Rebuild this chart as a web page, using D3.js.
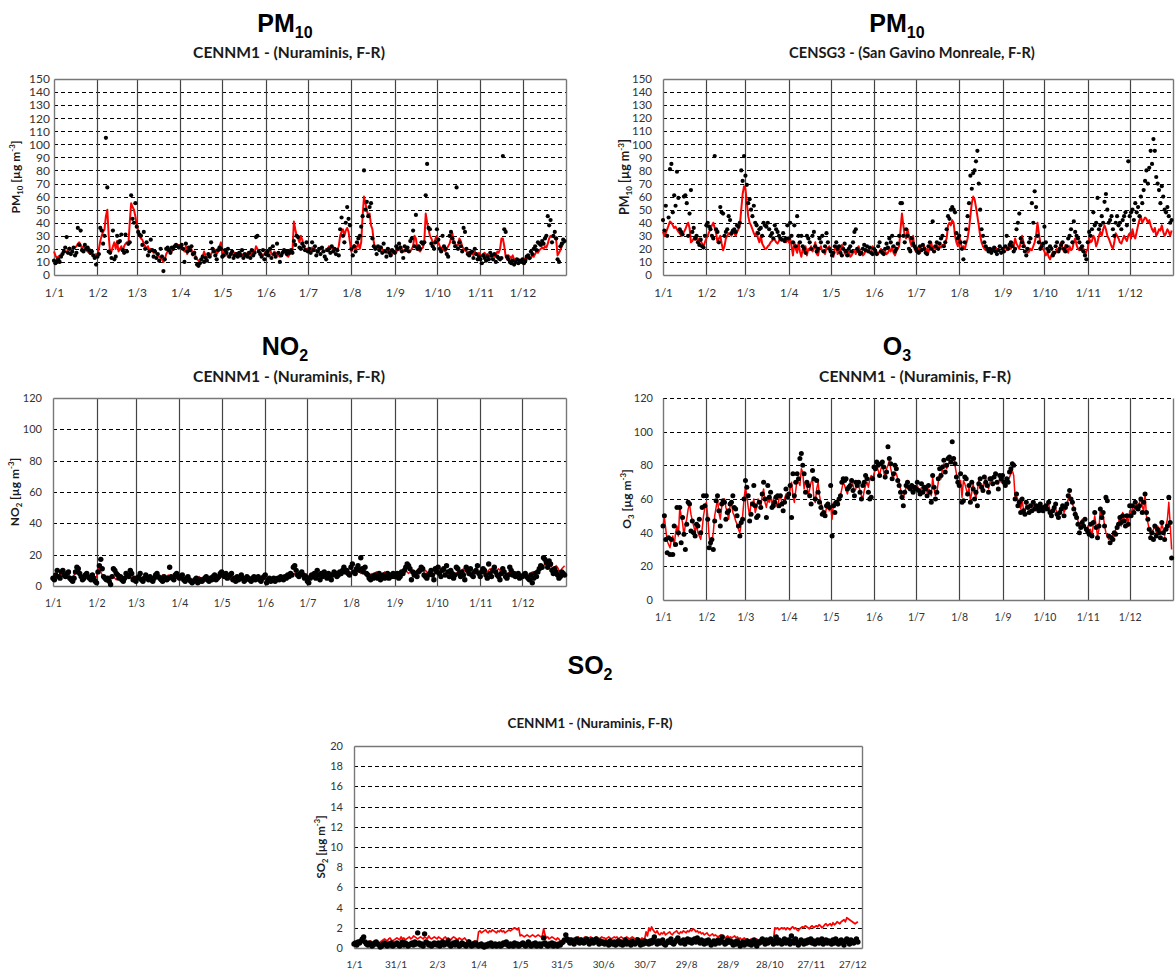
<!DOCTYPE html>
<html>
<head>
<meta charset="utf-8">
<script src="https://cdn.jsdelivr.net/npm/d3@7/dist/d3.min.js"></script>
<style>
  body { margin: 0; background: #fff; }
  svg { display: block; }
</style>
</head>
<body>
<svg id="chart" width="1176" height="972"></svg>
<script>
// ---- Axis categories and tick labels ----
const monthStarts = [0, 31, 59, 90, 120, 151, 181, 212, 243, 273, 304, 334];
const monthLabels = ["1/1", "1/2", "1/3", "1/4", "1/5", "1/6", "1/7", "1/8", "1/9", "1/10", "1/11", "1/12"];
const so2TickDays = [0, 30, 60, 90, 120, 150, 180, 210, 240, 270, 300, 330, 360];
const so2TickLabels = ["1/1", "31/1", "2/3", "1/4", "1/5", "31/5", "30/6", "30/7", "29/8", "28/9", "28/10", "27/11", "27/12"];
const pm10YTicks = [0, 10, 20, 30, 40, 50, 60, 70, 80, 90, 100, 110, 120, 130, 140, 150];
const no2YTicks = [0, 20, 40, 60, 80, 100, 120];
const o3YTicks = [0, 20, 40, 60, 80, 100, 120];
const so2YTicks = [0, 2, 4, 6, 8, 10, 12, 14, 16, 18, 20];

// ---- Daily series (one value per day, Jan..Dec, one month per line) ----
// PM10, CENNM1 Nuraminis: red line
const pm10NurLine = [
  18,15,13,14,15,15,16,17,18,17,20,21,20,19,20,21,22,24,25,23,20,22,21,19,18,17,16,17,15,14,16,
  15,20,26,30,33,35,45,50,30,17,18,22,25,20,26,18,20,22,18,22,24,25,23,40,55,52,50,45,
  38,34,30,28,27,24,22,20,22,19,20,19,17,18,16,15,14,13,12,10,12,16,18,20,19,18,20,21,22,22,23,
  21,22,20,18,22,16,20,18,20,15,18,14,12,11,10,12,14,18,15,13,15,14,16,18,20,19,16,18,22,25,
  15,17,18,16,14,15,17,16,15,17,16,14,16,17,15,16,14,15,17,16,15,18,16,17,22,20,18,17,16,15,16,
  18,15,17,20,16,15,18,17,16,15,14,16,18,19,17,15,14,16,17,18,41,35,30,28,25,30,27,22,20,20,
  19,20,18,21,19,20,18,17,19,20,21,19,18,20,19,22,20,21,19,18,20,19,22,30,33,35,30,34,36,33,25,
  18,20,23,18,22,24,20,25,45,60,55,50,45,47,38,35,25,20,21,20,19,22,20,18,19,17,18,20,18,16,17,
  18,17,20,19,22,20,19,18,21,20,19,18,20,22,30,28,20,19,18,20,21,26,47,40,35,30,28,25,24,28,
  30,25,22,20,21,19,18,20,22,24,28,32,25,24,22,23,28,26,22,20,19,18,17,18,16,17,15,18,16,15,17,
  15,14,16,17,15,16,14,15,13,16,14,15,18,17,20,28,28,22,14,12,15,14,13,15,12,10,11,12,10,11,
  12,11,13,12,14,12,13,15,14,16,18,17,19,20,21,20,22,21,24,28,30,29,30,28,27,15,17,19,22,24,25
];
// PM10, CENNM1 Nuraminis: black points
const pm10NurPoints = [
  11,9,10,12,10,14,16,18,21,29,17,20,16,18,21,15,17,36,23,34,19,18,23,20,21,19,17,18,15,13,8,
  14,16,36,34,24,30,105,67,18,17,13,34,12,14,30,25,26,31,19,17,31,18,24,25,61,43,40,55,
  37,33,31,30,23,33,20,25,15,18,27,19,14,18,13,16,11,20,14,3,12,20,21,19,17,21,20,22,23,22,21,
  22,23,20,10,24,18,21,19,22,16,17,13,8,7,9,12,14,10,13,11,16,14,25,20,18,15,12,19,21,20,
  14,15,19,17,20,14,16,18,13,15,16,14,17,15,19,13,16,15,14,17,13,19,15,17,29,30,18,16,14,19,12,
  16,18,15,20,13,22,16,14,24,17,10,15,17,19,18,16,18,17,19,17,26,23,30,29,21,20,24,22,19,25,
  18,20,17,25,19,22,15,18,20,16,21,18,14,12,19,20,17,22,18,20,16,19,15,35,44,30,25,40,52,43,38,
  20,15,22,18,25,28,30,37,45,80,50,56,45,52,55,28,22,20,16,22,19,21,17,24,18,14,20,17,15,19,18,
  17,22,20,24,21,18,13,22,19,21,18,26,28,34,22,46,20,22,20,25,24,25,61,85,36,35,24,22,20,25,
  35,27,20,18,30,22,20,16,14,30,33,28,25,22,67,20,25,22,18,36,33,20,16,15,17,18,13,20,16,12,14,
  12,9,15,13,11,14,12,17,15,12,16,10,14,13,12,13,91,35,33,14,12,10,9,11,8,10,12,9,11,10,
  12,9,11,14,15,13,18,16,20,22,19,25,24,23,26,24,28,30,45,38,42,25,30,33,28,12,10,22,24,27,26
];
// PM10, CENSG3 San Gavino Monreale: red line
const pm10SgLine = [
  33,30,32,35,38,41,40,38,36,37,35,33,32,30,31,33,35,38,40,36,25,26,28,27,30,25,28,26,24,22,25,
  28,30,33,35,38,40,36,32,25,28,30,24,19,22,28,30,32,31,30,33,32,30,33,35,38,50,62,68,
  66,55,45,40,38,35,32,30,33,28,25,30,24,22,20,20,22,23,25,26,28,27,25,24,26,28,27,28,26,25,27,
  25,28,22,15,25,20,17,25,18,14,20,18,22,15,20,19,22,18,20,25,16,15,20,22,18,19,16,21,20,22,
  18,15,14,20,22,16,20,18,23,21,17,15,16,18,14,15,17,19,16,20,22,18,17,15,16,19,18,20,17,18,22,
  20,18,17,16,18,20,17,19,18,16,17,20,18,22,17,15,18,20,22,35,47,38,30,28,35,30,25,22,30,20,
  18,20,22,17,20,19,22,18,20,17,22,25,19,22,20,23,20,22,21,23,22,25,28,38,40,38,42,40,30,25,22,
  30,25,20,22,20,24,28,35,45,55,60,58,52,45,38,30,25,22,20,19,21,20,18,20,19,18,21,20,19,18,17,
  18,20,22,19,21,23,20,25,22,28,24,22,20,25,30,25,22,20,17,18,20,19,22,25,30,40,32,25,22,20,
  18,15,17,14,12,15,18,16,17,20,18,22,25,20,18,23,20,17,22,19,20,25,28,23,20,19,22,18,20,15,18,
  20,28,25,26,30,28,22,25,30,33,30,35,38,35,30,28,25,22,20,25,32,30,28,25,24,27,30,28,26,30,
  32,28,35,30,28,33,38,42,45,40,42,44,43,40,42,38,35,33,36,30,32,35,34,38,33,30,32,35,33,30,34
];
// PM10, CENSG3 San Gavino Monreale: black points
const pm10SgPoints = [
  42,34,53,30,44,81,85,48,61,53,79,59,35,33,31,60,61,55,30,47,65,33,36,28,30,25,23,27,22,21,30,
  38,40,37,35,30,28,91,35,33,25,52,48,47,30,33,35,45,42,32,34,35,33,38,37,40,80,72,91,
  76,69,55,58,50,45,53,40,38,32,35,36,30,40,38,37,40,35,30,32,28,38,35,33,30,28,27,32,26,28,38,
  28,40,30,25,38,22,45,30,25,30,22,20,17,30,28,25,20,30,33,22,18,20,28,25,30,18,22,32,25,20,
  18,15,17,22,25,20,22,17,15,20,24,18,15,20,22,18,25,33,35,20,18,16,17,20,23,19,22,18,21,17,16,
  20,18,16,22,25,18,17,16,20,24,21,28,25,30,22,18,20,24,30,55,55,30,25,35,30,20,18,28,24,22,
  20,18,17,22,19,23,20,17,16,22,25,20,41,18,22,25,20,24,28,30,22,25,35,45,43,50,52,50,48,32,28,
  30,25,20,12,25,35,45,55,76,66,78,80,87,95,70,50,35,30,25,22,20,18,20,17,19,21,18,16,19,22,17,
  20,18,22,30,20,23,25,22,18,20,35,40,47,28,25,22,18,15,20,25,28,55,40,64,52,30,25,20,22,24,
  37,25,20,18,22,20,15,17,22,25,18,20,23,25,20,18,22,28,30,35,25,41,33,30,28,25,20,22,18,15,12,
  25,33,30,35,48,38,40,59,35,38,45,40,56,62,50,40,42,45,35,30,40,45,38,40,35,42,45,48,38,87,
  45,48,50,42,55,48,52,45,60,55,65,72,80,70,82,95,85,104,95,75,70,65,55,68,60,50,48,52,45,40,42
];
// NO2, CENNM1 Nuraminis: red line
const no2Line = [
  6,5,6,7,6,8,7,6,5,6,7,8,6,5,6,7,8,9,10,8,7,6,5,6,7,6,5,6,5,4,5,
  6,10,12,9,7,6,5,6,5,4,5,7,6,5,4,5,6,7,6,5,6,5,7,8,6,5,6,5,
  5,6,7,6,5,4,5,6,7,6,5,5,6,7,8,7,6,5,6,7,6,5,6,7,6,5,4,5,6,5,5,
  4,5,6,5,4,3,4,5,4,3,4,5,4,5,6,5,4,5,6,5,4,5,6,7,6,5,6,7,6,5,
  6,7,6,5,6,5,4,5,4,5,6,5,4,5,4,5,6,5,4,5,4,5,6,5,4,5,4,5,6,5,4,
  5,4,5,4,5,4,5,6,5,4,5,4,5,6,5,6,7,6,7,8,7,8,7,6,7,8,7,6,7,8,
  7,6,7,8,7,6,7,8,7,6,7,8,7,6,7,8,7,8,9,8,7,8,9,8,7,8,9,8,9,8,9,
  9,10,9,8,9,10,9,8,9,10,9,8,7,8,7,8,7,8,9,8,7,8,7,8,9,8,7,8,7,8,7,
  8,9,8,7,8,9,8,9,10,9,8,9,10,9,8,9,10,11,10,9,10,9,10,9,8,9,10,9,10,9,
  10,9,10,11,10,9,10,9,8,9,10,9,8,7,8,9,10,9,10,11,10,9,8,9,10,9,8,9,10,9,8,
  8,9,10,9,8,9,10,11,10,9,10,9,10,11,10,9,8,9,8,7,8,9,8,7,8,7,8,7,8,7,
  8,7,8,7,6,7,8,9,8,9,10,9,10,11,12,13,14,13,12,14,13,12,11,12,13,12,10,9,11,12,13
];
// NO2, CENNM1 Nuraminis: black points
const no2Points = [
  5,4,7,10,6,5,9,10,7,6,8,9,5,4,3,5,9,12,11,8,6,4,5,7,8,6,5,4,7,5,3,
  2,9,13,17,11,6,5,4,5,3,1,6,11,10,8,7,5,6,4,3,5,8,7,6,10,8,4,5,
  3,5,6,8,4,3,5,7,5,4,6,4,3,5,7,8,6,5,4,3,6,5,4,5,12,6,5,4,7,8,6,
  5,6,7,4,3,5,6,4,3,2,3,4,5,2,3,4,3,4,5,6,4,3,5,4,6,7,4,5,6,8,
  9,7,6,8,5,6,7,8,4,5,3,6,4,5,7,5,3,4,6,5,4,3,5,6,4,5,6,4,3,5,6,
  7,2,4,5,3,4,5,3,4,5,4,6,5,4,6,5,7,6,8,7,12,13,10,7,6,8,9,7,5,6,
  3,2,5,7,6,8,5,10,7,4,8,6,9,7,5,8,6,4,7,9,8,6,7,9,8,10,12,9,10,8,7,
  12,14,9,8,11,13,10,18,11,9,12,8,7,5,4,6,5,7,6,5,8,4,6,7,5,6,8,5,7,6,8,
  6,7,8,5,6,9,8,10,12,14,13,11,4,9,7,8,6,9,10,12,11,7,6,5,7,8,10,7,4,11,
  9,12,8,6,10,11,7,13,9,6,10,8,5,7,12,11,8,6,9,7,4,12,10,8,11,7,6,9,10,13,8,
  6,9,11,10,7,5,14,8,6,10,12,9,7,6,4,8,11,9,6,5,7,12,10,7,8,6,7,8,5,6,
  6,7,8,6,5,4,7,2,5,8,6,9,11,13,12,18,17,15,12,16,14,10,8,11,9,7,5,6,9,8,7
];
// O3, CENNM1 Nuraminis: red line
const o3Line = [
  44,49,42,35,33,31,36,38,32,40,44,38,55,50,46,38,45,48,54,57,51,47,44,40,45,40,38,36,42,50,55,
  58,50,38,31,35,40,50,55,60,52,48,55,58,60,55,52,48,56,58,52,50,47,45,42,40,45,50,60,
  67,62,55,50,58,56,60,52,55,60,58,55,62,66,58,55,60,58,62,56,60,62,58,55,60,62,58,56,60,63,62,
  60,66,70,62,58,65,72,70,68,78,76,66,70,68,62,66,70,72,60,58,66,70,62,58,55,52,50,55,58,53,
  56,48,58,55,58,56,60,62,66,70,68,65,63,67,70,72,68,65,66,70,68,65,62,60,65,68,70,67,72,74,72,
  75,78,80,77,74,78,80,76,72,78,80,83,78,74,73,76,75,72,70,66,62,60,64,67,68,66,65,67,66,65,
  65,68,66,64,67,65,66,68,64,66,65,62,73,66,62,64,70,75,72,78,81,80,78,80,82,83,84,85,80,75,70,
  67,71,61,71,69,66,62,67,59,64,69,63,61,65,71,68,69,66,70,72,69,66,70,72,68,69,70,71,69,72,70,
  72,69,70,72,70,73,75,77,74,61,62,58,60,54,59,54,53,57,55,54,56,55,57,54,56,55,54,57,54,56,
  54,55,56,57,53,51,52,55,54,52,50,51,53,55,52,54,56,60,63,58,57,55,53,51,47,44,46,48,45,42,40,
  44,40,42,38,45,50,44,38,42,55,48,51,44,40,38,36,38,37,40,38,42,44,46,50,44,52,48,46,50,44,
  53,51,55,53,55,57,55,58,60,56,52,63,50,46,42,38,40,42,44,40,44,42,40,46,42,38,44,48,58,45,30
];
// O3, CENNM1 Nuraminis: black points
const o3Points = [
  44,50,36,28,37,27,36,27,44,33,55,40,55,34,49,39,30,45,58,57,41,47,40,38,45,44,48,40,55,62,56,
  62,48,31,34,36,30,47,59,62,53,44,57,59,58,48,52,53,57,58,62,55,54,50,44,38,46,48,60,
  71,67,62,47,51,57,68,56,49,50,58,55,63,70,60,49,68,61,64,55,56,58,61,62,56,62,57,53,58,66,61,
  63,68,49,75,62,70,75,72,84,87,80,75,64,70,68,62,57,77,72,60,71,64,58,55,51,52,50,56,57,55,
  68,38,56,52,58,57,60,62,70,72,71,72,66,67,68,71,65,62,70,68,70,64,60,68,70,74,72,64,60,61,72,
  79,78,82,80,74,81,82,79,73,76,91,84,81,72,75,80,78,71,68,64,61,56,64,68,70,67,66,68,64,67,
  66,70,65,63,69,64,67,66,62,68,64,58,74,67,60,64,72,78,74,79,83,76,80,84,85,82,94,84,81,73,70,
  68,75,58,59,73,72,63,68,58,70,66,60,64,56,69,72,67,65,73,70,68,64,72,72,69,73,75,70,66,74,72,
  74,70,68,72,70,76,78,81,80,60,63,56,58,52,60,53,51,58,55,52,56,53,58,54,56,55,53,57,55,53,
  55,56,54,58,52,50,53,55,57,51,49,52,54,56,50,55,57,62,65,60,58,54,51,49,45,40,43,46,44,48,42,
  41,39,45,38,46,52,43,37,44,54,49,52,44,61,59,38,34,37,36,40,39,43,45,49,46,50,47,44,50,45,
  56,50,56,52,58,55,54,56,60,52,58,63,52,48,42,37,40,36,44,38,42,40,37,46,40,36,42,44,61,46,25
];
// SO2, CENNM1 Nuraminis: red line
const so2Line = [
  .6,.5,.6,.5,.7,.6,.8,.7,.6,.5,.6,.5,.7,.6,.5,.6,.7,.6,.5,.6,.7,.8,.9,.8,.7,.9,1.0,.8,.7,.8,.9,
  1.0,.9,.8,1.1,.9,1.0,.8,.9,1.0,1.1,.9,1.0,1.2,1.1,1.0,.9,1.0,1.1,1.0,.9,1.1,1.0,.9,1.2,1.0,.9,1.0,1.1,
  1.0,.9,1.1,1.0,.9,.8,1.0,1.1,.9,1.0,.9,.8,1.0,1.1,1.0,.9,.8,1.0,.9,.8,.9,1.0,.8,.7,.8,.6,.5,.6,.7,.6,.6,
  1.6,1.7,1.5,1.6,1.7,1.8,1.6,1.5,1.7,1.6,1.8,1.7,1.6,1.5,1.7,1.6,1.8,1.6,1.7,1.5,1.6,1.7,1.8,1.7,1.8,1.9,2.0,1.9,1.8,2.0,
  1.2,1.3,1.2,1.1,1.2,1.3,1.2,1.1,1.2,1.3,1.2,1.1,1.2,1.3,1.2,1.1,1.2,1.9,1.3,1.0,1.1,.9,1.0,1.1,1.0,.9,.8,1.0,.9,.7,.6,
  .7,.8,.9,.8,.9,1.0,.9,.8,1.0,.9,1.0,1.1,.9,1.0,.9,1.0,1.1,1.0,.9,1.0,1.1,1.0,.9,1.0,1.1,1.0,.9,1.0,1.1,1.0,
  1.0,.9,1.0,1.1,1.0,.9,1.0,1.1,1.0,1.1,.9,1.0,1.1,1.0,.9,1.0,1.1,1.0,.9,1.0,1.1,1.0,.9,1.0,1.0,.9,.8,1.0,.9,.9,1.6,
  1.2,2.0,1.7,2.1,1.8,1.6,1.5,1.7,1.4,1.3,1.5,1.4,1.6,1.3,1.4,1.5,1.6,1.4,1.3,1.5,1.6,1.7,1.5,1.4,1.6,1.5,1.7,1.6,1.5,1.7,1.6,
  1.8,1.7,1.9,1.8,1.6,1.7,1.5,1.6,1.4,1.5,1.3,1.4,1.5,1.3,1.2,1.3,1.4,1.2,1.3,1.2,1.1,1.2,1.3,1.2,1.1,1.0,1.1,1.2,1.0,1.1,
  1.0,1.1,1.2,1.0,1.1,.9,1.0,.8,.9,1.0,.8,.9,.7,.8,.9,.8,.7,.8,.9,.7,.8,.7,.8,.9,.8,.7,.6,.8,.7,.6,.7,
  2.0,1.9,2.0,1.8,1.9,2.0,1.9,2.0,1.8,2.0,1.9,1.8,2.0,2.1,1.9,2.0,1.8,1.7,1.9,2.0,2.1,2.0,2.2,2.1,2.0,1.9,2.1,2.2,2.0,2.1,
  2.2,2.1,2.3,2.2,2.0,2.1,2.3,2.4,2.2,2.3,2.4,2.2,2.5,2.3,2.4,2.6,2.5,2.4,2.6,2.7,2.8,2.6,3.0,2.9,2.8,2.7,2.6,2.5,2.4,2.5,2.6
];
// SO2, CENNM1 Nuraminis: black points
const so2Points = [
  .4,.5,.3,.6,.5,.7,.9,1.1,.6,.4,.3,.5,.4,.2,.3,.5,.6,.4,.3,.1,.2,.4,.5,.3,.2,.4,.3,.5,.2,.3,.4,
  .5,.3,.2,.4,.6,.3,.5,.4,.2,.3,.4,.5,.3,.6,.4,1.5,.5,.3,.4,.2,1.4,.6,.5,.3,.4,.2,.3,.5,
  .4,.3,.5,.2,.4,.6,.3,.4,.5,.7,.3,.2,.4,.5,.3,.6,.4,.2,.3,.5,.4,.3,.2,.4,.6,.3,.2,.4,.3,.5,.3,
  .2,.3,.4,.2,.1,.3,.2,.4,.3,.5,.2,.3,.4,.2,.3,.4,.2,.3,.5,.4,.6,.3,.2,.4,.3,.2,.5,.3,.4,.2,
  .3,.4,.5,.3,.2,.4,.6,.3,.2,.4,.3,.5,.2,.3,.4,.2,.4,1.0,.5,.3,.2,.4,.3,.5,.2,.4,.3,.2,.4,.3,.5,
  .6,.8,1.3,.9,.7,.5,.8,.6,.4,.7,.9,.6,.5,.8,.7,.5,.6,.9,.7,.4,.6,.8,.5,.7,.9,.6,.4,.7,.5,.6,
  .4,.6,.5,.3,.7,.5,.4,.6,.3,.5,.7,.4,.6,.3,.5,.8,.4,.6,.5,.3,.7,.5,.4,.6,.8,.5,.3,.6,.4,.7,.5,
  .6,.4,.7,.5,.8,1.1,.6,.4,.7,.5,.6,.8,.4,.3,.5,.7,.6,.9,.5,.4,.6,.8,1.0,.7,.5,.6,.8,.4,.7,.9,.6,
  .8,.5,.7,.9,.6,1.0,.7,.5,.8,.6,.4,.7,.5,.8,.6,.3,.5,.7,.4,.6,.8,.5,.7,1.1,.6,.4,.5,.8,.6,.7,
  .5,.3,.6,.4,.7,.5,.2,.4,.6,.3,.5,.7,.4,.6,.3,.5,.8,.4,.2,.6,.5,.7,.9,.6,.4,.8,.5,.7,.9,.6,.4,
  .7,1.1,.5,.8,.6,.4,.7,.9,.5,.6,.8,.4,1.2,.7,.5,.9,.6,.3,.5,.8,.6,.4,.7,.5,.8,.6,.9,.5,.7,.4,
  .6,.8,.5,.7,.9,.4,.6,.8,.5,.7,.6,.4,.8,.5,.9,.7,.4,.6,.8,.5,.3,.7,.9,.6,.4,.8,.6,.5,.7,.9,.6
];

// ---- Drawing ----
const svg = d3.select("#chart");
svg.append("rect").attr("width", 1176).attr("height", 972).attr("fill", "#fff");

const TICK_FONT = "Lato, 'Open Sans', sans-serif";
const TITLE_FONT = "'Liberation Sans', Arial, sans-serif";

// Title like "PM10" with the trailing part as subscript
function title(x, y, main, sub) {
  const t = svg.append("text")
    .attr("x", x).attr("y", y)
    .attr("text-anchor", "middle")
    .attr("font-family", TITLE_FONT)
    .attr("font-weight", "bold")
    .attr("font-size", 25)
    .attr("fill", "#000");
  t.append("tspan").text(main);
  t.append("tspan").attr("font-size", 16).attr("dy", 6).text(sub);
}

// Station subtitle, font size chosen so the line spans the given width
function subtitle(x, y, txt, width) {
  const t = svg.append("text")
    .attr("x", x).attr("y", y)
    .attr("text-anchor", "middle")
    .attr("font-family", TICK_FONT)
    .attr("font-weight", "bold")
    .attr("font-size", 14)
    .attr("fill", "#1a1a1a")
    .text(txt);
  const len = t.node().getComputedTextLength();
  if (len > 0) t.attr("font-size", 14 * width / len);
}

function drawPanel(p) {
  const g = svg.append("g");
  const x = d3.scaleLinear().domain([0, p.xMax]).range([p.left, p.right]);
  const y = d3.scaleLinear().domain([0, p.yMax]).range([p.bottom, p.top]);

  // dashed horizontal grid
  const gridVals = p.yTicks.filter(v => v > 0 && (v < p.yMax || p.dashedTop));
  g.append("g").selectAll("line").data(gridVals).join("line")
    .attr("x1", p.left).attr("x2", p.right)
    .attr("y1", d => Math.round(y(d)) + 0.5).attr("y2", d => Math.round(y(d)) + 0.5)
    .attr("stroke", "#000").attr("stroke-width", 1)
    .attr("stroke-dasharray", "4,3");

  // month separators
  if (p.monthLines) {
    g.append("g").selectAll("line").data(monthStarts.slice(1)).join("line")
      .attr("x1", d => Math.round(x(d)) + 0.5).attr("x2", d => Math.round(x(d)) + 0.5)
      .attr("y1", p.top).attr("y2", p.bottom)
      .attr("stroke", "#444").attr("stroke-width", 1.2);
  }

  // plot frame
  const L = Math.round(p.left) + 0.5, R = Math.round(p.right) + 0.5;
  const T = Math.round(p.top) + 0.5, B = Math.round(p.bottom) + 0.5;
  const frame = g.append("g").attr("fill", "none").attr("stroke", "#777").attr("stroke-width", 1.4);
  frame.append("line").attr("x1", L).attr("x2", L).attr("y1", T).attr("y2", B);
  frame.append("line").attr("x1", R).attr("x2", R).attr("y1", T).attr("y2", B);
  frame.append("line").attr("x1", L).attr("x2", R).attr("y1", B).attr("y2", B);
  if (!p.dashedTop) frame.append("line").attr("x1", L).attr("x2", R).attr("y1", T).attr("y2", T);

  // y axis labels
  const ya = g.append("g").attr("transform", `translate(${p.left},0)`)
    .call(d3.axisLeft(y).tickValues(p.yTicks).tickSize(0).tickPadding(p.yPad).tickFormat(d3.format("d")));
  ya.select(".domain").remove();
  ya.selectAll("text").attr("font-family", TICK_FONT).attr("font-size", p.yFont).attr("fill", "#333");

  // x axis labels
  const xa = g.append("g").attr("transform", `translate(0,${p.bottom})`)
    .call(d3.axisBottom(x).tickValues(p.xTicks).tickSize(0).tickPadding(p.xPad)
      .tickFormat((d, i) => p.xLabels[i]));
  xa.select(".domain").remove();
  xa.selectAll("text").attr("font-family", TICK_FONT).attr("font-size", p.xFont).attr("fill", "#333");

  // y axis title: NAME(sub) [µg m^-3]
  const yt = g.append("text")
    .attr("transform", `translate(${p.yTitleX},${(p.top + p.bottom) / 2}) rotate(-90)`)
    .attr("text-anchor", "middle")
    .attr("font-family", TICK_FONT).attr("font-weight", "bold")
    .attr("font-size", p.yTitleFont).attr("fill", "#1a1a1a");
  yt.append("tspan").text(p.species);
  yt.append("tspan").attr("font-size", p.yTitleFont * 0.65).attr("dy", 3).text(p.speciesSub);
  yt.append("tspan").attr("dy", -3).text(" [µg m");
  yt.append("tspan").attr("font-size", p.yTitleFont * 0.65).attr("dy", -5).text("-3");
  yt.append("tspan").attr("dy", 5).text("]");

  // red line
  const line = d3.line().x((d, i) => x(i)).y(d => y(d));
  g.append("path").datum(p.line)
    .attr("d", line)
    .attr("fill", "none").attr("stroke", "#ff0000")
    .attr("stroke-width", p.lineWidth).attr("stroke-linejoin", "round");

  // observation points
  g.append("g").selectAll("circle")
    .data(p.points.map((v, i) => [i, v]).filter(d => d[1] != null))
    .join("circle")
    .attr("cx", d => x(d[0])).attr("cy", d => y(d[1]))
    .attr("r", p.r).attr("fill", "#000");
}

// Row 1: PM10
title(285, 32, "PM", "10");
subtitle(289, 58, "CENNM1 - (Nuraminis, F-R)", 192);
drawPanel({
  left: 54, right: 566, top: 79, bottom: 275, xMax: 365, yMax: 150,
  yTicks: pm10YTicks, xTicks: monthStarts, xLabels: monthLabels, monthLines: true,
  yPad: 4, xPad: 13, yFont: 12, xFont: 12,
  yTitleX: 20, yTitleFont: 12, species: "PM", speciesSub: "10",
  line: pm10NurLine, points: pm10NurPoints, lineWidth: 2, r: 2.1
});

title(897, 32, "PM", "10");
subtitle(912, 58, "CENSG3 - (San Gavino Monreale, F-R)", 246);
drawPanel({
  left: 663, right: 1173, top: 79, bottom: 275, xMax: 365, yMax: 150,
  yTicks: pm10YTicks, xTicks: monthStarts, xLabels: monthLabels, monthLines: true,
  yPad: 11, xPad: 14, yFont: 11.5, xFont: 11.5,
  yTitleX: 629, yTitleFont: 12.5, species: "PM", speciesSub: "10",
  line: pm10SgLine, points: pm10SgPoints, lineWidth: 2, r: 2.1
});

// Row 2: NO2 and O3
title(285, 355, "NO", "2");
subtitle(289, 382, "CENNM1 - (Nuraminis, F-R)", 192);
drawPanel({
  left: 53, right: 566, top: 398, bottom: 586, xMax: 365, yMax: 120,
  yTicks: no2YTicks, xTicks: monthStarts, xLabels: monthLabels, monthLines: true,
  yPad: 11, xPad: 14, yFont: 11, xFont: 10.5,
  yTitleX: 19, yTitleFont: 12, species: "NO", speciesSub: "2",
  line: no2Line, points: no2Points, lineWidth: 1.5, r: 2.7
});

title(897, 355, "O", "3");
subtitle(915, 382, "CENNM1 - (Nuraminis, F-R)", 192);
drawPanel({
  left: 663, right: 1173, top: 398, bottom: 600, xMax: 365, yMax: 120,
  yTicks: o3YTicks, xTicks: monthStarts, xLabels: monthLabels, monthLines: true, dashedTop: true,
  yPad: 10, xPad: 14, yFont: 11, xFont: 10.5,
  yTitleX: 631, yTitleFont: 12, species: "O", speciesSub: "3",
  line: o3Line, points: o3Points, lineWidth: 1.5, r: 2.5
});

// Row 3: SO2
title(590, 674, "SO", "2");
subtitle(590, 728, "CENNM1 - (Nuraminis, F-R)", 165);
drawPanel({
  left: 354, right: 862, top: 746, bottom: 948, xMax: 367, yMax: 20,
  yTicks: so2YTicks, xTicks: so2TickDays, xLabels: so2TickLabels, monthLines: false,
  yPad: 11, xPad: 13, yFont: 11, xFont: 10,
  yTitleX: 325, yTitleFont: 11.5, species: "SO", speciesSub: "2",
  line: so2Line, points: so2Points, lineWidth: 1.7, r: 2.7
});
</script>
</body>
</html>
